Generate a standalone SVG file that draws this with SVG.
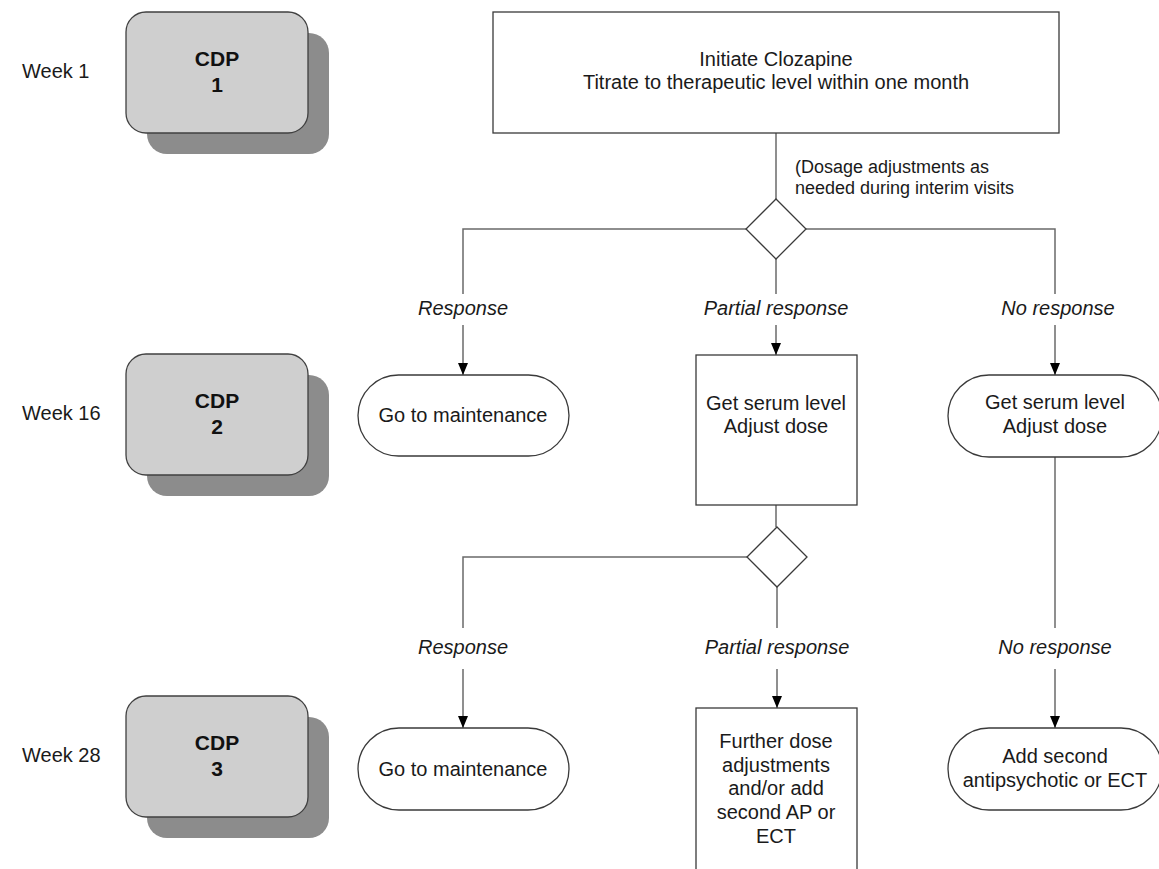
<svg xmlns="http://www.w3.org/2000/svg" width="1159" height="869" viewBox="0 0 1159 869">
<style>
text{font-family:"Liberation Sans",Arial,sans-serif;fill:#1a1a1a}
.t{font-size:20px;text-anchor:middle}
.w{font-size:20px}
.lbl{font-size:20px;font-style:italic;text-anchor:middle}
.note{font-size:18px}
.cdp{font-size:21px;font-weight:bold;text-anchor:middle;fill:#111}
.node{fill:#fff;stroke:#3a3a3a;stroke-width:1.3}
.cdpbox{fill:#cfcfcf;stroke:#404040;stroke-width:1.3}
.shadow{fill:#8c8c8c}
.conn{fill:none;stroke:#6a6a6a;stroke-width:1.5}
</style>
<defs>
<marker id="arr" viewBox="0 0 12 10" markerWidth="12" markerHeight="10" refX="12" refY="5" orient="auto" markerUnits="userSpaceOnUse">
<path d="M0,0 L12,5 L0,10 Z" fill="#000"/>
</marker>
</defs>
<rect width="1159" height="869" fill="#fff"/>

<g id="week-labels">
<text class="w" x="22" y="78">Week 1</text>
<text class="w" x="22" y="420">Week 16</text>
<text class="w" x="22" y="762">Week 28</text>
</g>

<g id="cdp1">
<rect class="shadow" x="147" y="33" width="182" height="121" rx="20"/>
<rect class="cdpbox" x="126" y="12" width="182" height="121" rx="20"/>
<text class="cdp" x="217" y="66">CDP</text>
<text class="cdp" x="217" y="92">1</text>
</g>
<g id="cdp2">
<rect class="shadow" x="147" y="375" width="182" height="121" rx="20"/>
<rect class="cdpbox" x="126" y="354" width="182" height="121" rx="20"/>
<text class="cdp" x="217" y="408">CDP</text>
<text class="cdp" x="217" y="434">2</text>
</g>
<g id="cdp3">
<rect class="shadow" x="147" y="717" width="182" height="121" rx="20"/>
<rect class="cdpbox" x="126" y="696" width="182" height="121" rx="20"/>
<text class="cdp" x="217" y="750">CDP</text>
<text class="cdp" x="217" y="776">3</text>
</g>

<g id="connectors">
<path class="conn" d="M776,133 V199"/>
<path class="conn" d="M746,229 H463 V294"/>
<path class="conn" d="M806,229 H1055 V294"/>
<path class="conn" d="M776,259 V294"/>
<path class="conn" d="M463,325 V375" marker-end="url(#arr)"/>
<path class="conn" d="M776,325 V355" marker-end="url(#arr)"/>
<path class="conn" d="M1055,325 V375" marker-end="url(#arr)"/>
<path class="conn" d="M776,505 V527"/>
<path class="conn" d="M747,557 H463 V628"/>
<path class="conn" d="M777,587 V628"/>
<path class="conn" d="M1055,457 V628"/>
<path class="conn" d="M463,669 V728" marker-end="url(#arr)"/>
<path class="conn" d="M777,669 V708" marker-end="url(#arr)"/>
<path class="conn" d="M1055,669 V728" marker-end="url(#arr)"/>
</g>

<g id="connector-labels">
<text class="note" x="795" y="173">(Dosage adjustments as</text>
<text class="note" x="795" y="194">needed during interim visits</text>
<text class="lbl" x="463" y="315">Response</text>
<text class="lbl" x="776" y="315">Partial response</text>
<text class="lbl" x="1058" y="315">No response</text>
<text class="lbl" x="463" y="654">Response</text>
<text class="lbl" x="777" y="654">Partial response</text>
<text class="lbl" x="1055" y="654">No response</text>
</g>

<g id="start">
<rect class="node" x="493" y="12" width="566" height="121"/>
<text class="t" x="776" y="66">Initiate Clozapine</text>
<text class="t" x="776" y="89">Titrate to therapeutic level within one month</text>
</g>

<g id="decision1">
<path class="node" d="M776,199 L806,229 L776,259 L746,229 Z"/>
</g>

<g id="maint1">
<rect class="node" x="358" y="375" width="211" height="81" rx="40.5"/>
<text class="t" x="463" y="422">Go to maintenance</text>
</g>

<g id="serum-partial">
<rect class="node" x="696" y="355" width="161" height="150"/>
<text class="t" x="776" y="410">Get serum level</text>
<text class="t" x="776" y="433">Adjust dose</text>
</g>

<g id="serum-none">
<rect class="node" x="948" y="375" width="214" height="82" rx="41"/>
<text class="t" x="1055" y="409">Get serum level</text>
<text class="t" x="1055" y="433">Adjust dose</text>
</g>

<g id="decision2">
<path class="node" d="M777,527 L807,557 L777,587 L747,557 Z"/>
</g>

<g id="maint2">
<rect class="node" x="358" y="728" width="211" height="82" rx="41"/>
<text class="t" x="463" y="776">Go to maintenance</text>
</g>

<g id="further">
<rect class="node" x="696" y="708" width="161" height="180"/>
<text class="t" x="776" y="748">Further dose</text>
<text class="t" x="776" y="772">adjustments</text>
<text class="t" x="776" y="795">and/or add</text>
<text class="t" x="776" y="819">second AP or</text>
<text class="t" x="776" y="843">ECT</text>
</g>

<g id="second-ap">
<rect class="node" x="948" y="728" width="214" height="82" rx="41"/>
<text class="t" x="1055" y="763">Add second</text>
<text class="t" x="1055" y="787">antipsychotic or ECT</text>
</g>
</svg>
